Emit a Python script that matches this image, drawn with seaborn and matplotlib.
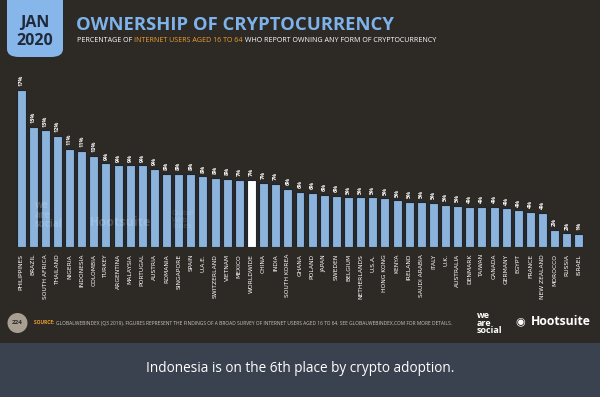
import matplotlib
matplotlib.use("Agg")
import matplotlib.pyplot as plt
from matplotlib.patches import FancyBboxPatch, Ellipse, Rectangle
import seaborn as sns
import pandas as pd

# data
countries = ["PHILIPPINES", "BRAZIL", "SOUTH AFRICA", "THAILAND", "NIGERIA", "INDONESIA",
             "COLOMBIA", "TURKEY", "ARGENTINA", "MALAYSIA", "PORTUGAL", "AUSTRIA",
             "ROMANIA", "SINGAPORE", "SPAIN", "U.A.E.", "SWITZERLAND", "VIETNAM",
             "MEXICO", "WORLDWIDE", "CHINA", "INDIA", "SOUTH KOREA", "GHANA", "POLAND",
             "JAPAN", "SWEDEN", "BELGIUM", "NETHERLANDS", "U.S.A.", "HONG KONG", "KENYA",
             "IRELAND", "SAUDI ARABIA", "ITALY", "U.K.", "AUSTRALIA", "DENMARK", "TAIWAN",
             "CANADA", "GERMANY", "EGYPT", "FRANCE", "NEW ZEALAND", "MOROCCO", "RUSSIA",
             "ISRAEL"]
ownership = [17.1, 13.1, 12.7, 12.1, 10.7, 10.5, 9.9, 9.1, 8.9, 8.9, 8.9, 8.5,
             7.95, 7.95, 7.95, 7.7, 7.5, 7.4, 7.3, 7.3, 7.0, 6.9, 6.3, 6.0, 5.9,
             5.7, 5.6, 5.4, 5.4, 5.4, 5.3, 5.1, 4.9, 4.9, 4.8, 4.6, 4.5, 4.4, 4.4,
             4.35, 4.2, 4.0, 3.8, 3.7, 1.9, 1.5, 1.4]
labels = ["17%", "13%", "13%", "12%", "11%", "11%", "10%", "9%", "9%", "9%", "9%", "9%",
          "8%", "8%", "8%", "8%", "8%", "8%", "7%", "7%", "7%", "7%", "6%", "6%", "6%",
          "6%", "6%", "5%", "5%", "5%", "5%", "5%", "5%", "5%", "5%", "5%", "5%", "4%",
          "4%", "4%", "4%", "4%", "4%", "4%", "2%", "2%", "1%"]

BG = "#2d2925"
BLUE = "#7db3ea"
BAND = "#3a424f"

df = pd.DataFrame({"country": countries, "value": ownership})
colors = ["#ffffff" if c == "WORLDWIDE" else BLUE for c in countries]

sns.set_theme(style="white")
plt.rcParams["font.family"] = ["Open Sans", "DejaVu Sans"]

W, H = 600, 397
fig = plt.figure(figsize=(6, 3.97), dpi=100)
fig.patch.set_facecolor(BG)

# caption band at the bottom
fig.add_artist(Rectangle((0, 0), 1, 54 / H, transform=fig.transFigure,
                         facecolor=BAND, edgecolor="none"))
fig.text(0.5, (H - 368) / H, "Indonesia is on the 6th place by crypto adoption.",
         color="white", fontsize=9.8, ha="center", va="center")

# bar axes
base = 247
px_per = 9.18
top = 78
ax = fig.add_axes([15 / W, (H - base) / H, 570 / W, (base - top) / H])
ax.set_facecolor(BG)
sns.barplot(data=df, x="country", y="value", hue="country", palette=colors,
            legend=False, width=0.74, edgecolor="#1d2630", linewidth=0.8, ax=ax)
ax.set_xlim(-0.5, len(countries) - 0.5)
ax.set_ylim(0, (base - top) / px_per)
ax.set_xlabel("")
ax.set_ylabel("")
ax.set_yticks([])
ax.set_xticks(range(len(countries)))
ax.set_xticklabels(countries, rotation=90, fontsize=4.3, color="white",
                   family=["Liberation Sans Narrow", "DejaVu Sans"])
ax.tick_params(axis="x", length=0, pad=5)
sns.despine(ax=ax, left=True, bottom=True)

for i, (v, lab) in enumerate(zip(ownership, labels)):
    ax.text(i, v + 0.4, lab, rotation=90, ha="center", va="bottom",
            fontsize=4.0, color="white", fontweight="bold")

# faint watermarks inside the bars
fig.text(35 / W, (H - 215) / H, "we\nare\nsocial", color="white", alpha=0.18,
         fontsize=7, fontweight="bold", linespacing=0.8, va="center")
fig.text(90 / W, (H - 222) / H, "Hootsuite", color="white", alpha=0.18,
         fontsize=9, fontweight="bold", va="center")
fig.text(172 / W, (H - 220) / H, "Global\nWeb\nIndex", color="white", alpha=0.18,
         fontsize=5.5, linespacing=0.9, va="center")

# date tab
fig.add_artist(FancyBboxPatch((7 / W, (H - 57) / H), 56 / W, 70 / H,
                              boxstyle="round,pad=0,rounding_size=0.02",
                              transform=fig.transFigure, facecolor="#86b6ea",
                              edgecolor="none"))
fig.text(35 / W, (H - 23) / H, "JAN", color="#1f2a3a", fontsize=11.5,
         fontweight="bold", ha="center", va="center")
fig.text(35 / W, (H - 41) / H, "2020", color="#1f2a3a", fontsize=11.5,
         fontweight="bold", ha="center", va="center")

# title and subtitle
fig.text(76 / W, (H - 24.5) / H, "OWNERSHIP OF CRYPTOCURRENCY", color="#7db3ea",
         fontsize=13.3, fontweight="bold", ha="left", va="center")
sub_y = (H - 41) / H
t1 = fig.text(77 / W, sub_y, "PERCENTAGE OF ", color="white", fontsize=5.1,
              ha="left", va="center")
fig.canvas.draw()
r = fig.canvas.get_renderer()
x = t1.get_window_extent(r).x1
t2 = fig.text(x / W, sub_y, "INTERNET USERS AGED 16 TO 64", color="#f0a030",
              fontsize=5.1, ha="left", va="center")
x = t2.get_window_extent(r).x1
fig.text(x / W, sub_y, " WHO REPORT OWNING ANY FORM OF CRYPTOCURRENCY", color="white",
         fontsize=5.1, ha="left", va="center")

# footer
fy = (H - 323) / H
fig.add_artist(Ellipse((17.5 / W, fy), 20 / W, 20 / H, transform=fig.transFigure,
                       facecolor="#a89e92", edgecolor="none"))
fig.text(17.5 / W, fy, "224", color="#2d2925", fontsize=4.5, fontweight="bold",
         ha="center", va="center")
s1 = fig.text(34 / W, fy, "SOURCE: ", color="#f0a030", fontsize=3.5,
              fontweight="bold", ha="left", va="center")
x = s1.get_window_extent(r).x1
fig.text(x / W, fy, "GLOBALWEBINDEX (Q3 2019). FIGURES REPRESENT THE FINDINGS OF A BROAD "
         "SURVEY OF INTERNET USERS AGED 16 TO 64. SEE GLOBALWEBINDEX.COM FOR MORE DETAILS.",
         color="#cfc8c0", fontsize=3.5, ha="left", va="center")
fig.text(477 / W, fy, "we\nare\nsocial", color="white", fontsize=6.5,
         fontweight="bold", linespacing=0.75, ha="left", va="center")
fig.text(531 / W, fy + 0.003, "Hootsuite", color="white", fontsize=8.8,
         fontweight="bold", ha="left", va="center")
fig.text(520 / W, fy + 0.003, "\u25c9", color="white", fontsize=8,
         ha="center", va="center", family=["DejaVu Sans"])

fig.savefig("out.png", dpi=100, facecolor=BG)
